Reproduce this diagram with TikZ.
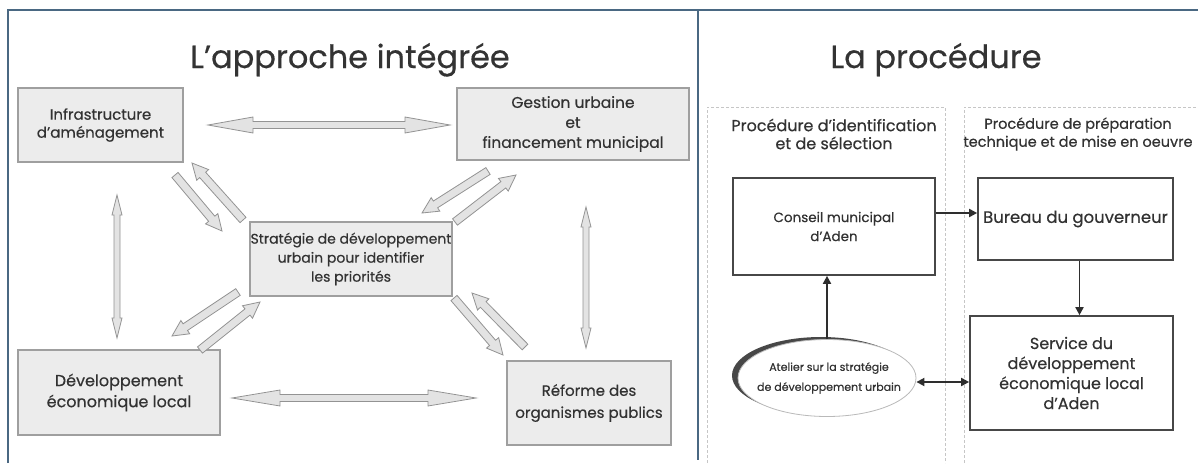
\documentclass[tikz,border=0pt]{standalone}
\usepackage{fontspec}
\setmainfont{Poppins}[FakeBold=0.4]
\usetikzlibrary{calc,shapes.geometric,arrows.meta}
\definecolor{framec}{RGB}{74,104,130}
\definecolor{txtc}{RGB}{50,50,50}
\newcommand\dblarr[5]{%
 \draw[garrow] (#1) -- ($(#1)!#3pt!(#2)!#4pt!90:(#2)$) -- ($(#1)!#3pt!(#2)!#5pt!90:(#2)$)
 -- ($(#2)!#3pt!(#1)!#5pt!-90:(#1)$) -- ($(#2)!#3pt!(#1)!#4pt!-90:(#1)$) -- (#2)
 -- ($(#2)!#3pt!(#1)!#4pt!90:(#1)$) -- ($(#2)!#3pt!(#1)!#5pt!90:(#1)$)
 -- ($(#1)!#3pt!(#2)!#5pt!-90:(#2)$) -- ($(#1)!#3pt!(#2)!#4pt!-90:(#2)$) -- cycle;}
\newcommand\sglarr[5]{%
 \draw[garrow] ($(#1)!#5pt!90:(#2)$) -- ($(#2)!#3pt!(#1)!#5pt!-90:(#1)$)
 -- ($(#2)!#3pt!(#1)!#4pt!-90:(#1)$) -- (#2) -- ($(#2)!#3pt!(#1)!#4pt!90:(#1)$)
 -- ($(#2)!#3pt!(#1)!#5pt!90:(#1)$) -- ($(#1)!#5pt!-90:(#2)$) -- cycle;}
\newcommand\fs[2]{\fontsize{#1}{#2}\selectfont}
\tikzset{
 frame/.style={draw=framec, line width=1.8pt},
 title/.style={anchor=base, text=black!80, font=\fs{32}{38}, inner sep=0pt},
 lbox/.style={draw=gray!75, fill=gray!15, line width=1.3pt, align=center, text=txtc, inner sep=0pt},
 rbox/.style={draw=black!72, fill=white, line width=1.7pt, align=center, text=txtc, inner sep=0pt},
 hdr/.style={align=center, text=txtc, inner sep=0pt},
 garrow/.style={draw=gray!85, fill=gray!22, line width=0.8pt, line join=miter},
 barrow/.style={draw=black!82, line width=1.8pt, -{Triangle[length=8pt,width=8pt]}},
 colline/.style={draw=gray!45, line width=0.8pt, dash pattern=on 3pt off 2pt},
}
\begin{document}
\begin{tikzpicture}[x=1pt,y=-1pt]
\useasboundingbox (0,0) rectangle (1198,463);
\fill[white] (0,0) rectangle (1198,463);
% frame
\draw[frame] (8,463) -- (8,10) -- (1198,10);
\draw[frame] (698,10) -- (698,460);
% titles
\node[title] (t1) at (350,68) {L’approche intégrée};
\node[title] (t2) at (936,68) {La procédure};
% left boxes
\node[lbox, minimum width=165, minimum height=74, font=\fs{15}{18}] (infra) at (100.5,125) {Infrastructure\\d’aménagement};
\node[lbox, minimum width=232, minimum height=72, font=\fs{15.5}{20}] (gestion) at (573,124) {Gestion urbaine\\et\\financement municipal};
\node[lbox, minimum width=202, minimum height=74, font=\fs{14}{19}] (strat) at (351,259) {Stratégie de développement\\urbain pour identifier\\les priorités};
\node[lbox, minimum width=202, minimum height=85, font=\fs{16}{21}] (dev) at (119,392.5) {Développement\\économique local};
\node[lbox, minimum width=164, minimum height=84, font=\fs{15}{22}] (ref) at (589,403) {Réforme des\\organismes publics};
% gray arrow ends
\coordinate (a1) at (208,125); \coordinate (a2) at (450,125);
\coordinate (b1) at (232,398); \coordinate (b2) at (476,398);
\coordinate (c1) at (117,195); \coordinate (c2) at (117,338);
\coordinate (d1) at (586,207); \coordinate (d2) at (586,348);
\dblarr{a1}{a2}{45}{8}{3.5}
\dblarr{b1}{b2}{48}{8}{3.5}
\dblarr{c1}{c2}{20}{5}{3}
\dblarr{d1}{d2}{20}{5}{3}
\coordinate (e1) at (175,175); \coordinate (e2) at (222,231);
\coordinate (f1) at (243,220); \coordinate (f2) at (192,163);
\coordinate (g1) at (488,171); \coordinate (g2) at (422,213);
\coordinate (h1) at (455,222); \coordinate (h2) at (516,175);
\coordinate (i1) at (238,292); \coordinate (i2) at (172,336);
\coordinate (j1) at (200,350); \coordinate (j2) at (260,302);
\coordinate (k1) at (454,298); \coordinate (k2) at (503,355);
\coordinate (l1) at (525,347); \coordinate (l2) at (472,293);
\foreach \p/\q in {e1/e2,f1/f2,g1/g2,h1/h2,i1/i2,j1/j2,k1/k2,l1/l2}{\sglarr{\p}{\q}{16}{8}{4}}
% right panel columns
\draw[colline] (707,463) -- (707,107) -- (945,107) -- (945,463);
\draw[colline] (964,463) -- (964,107) -- (1198,107);
\node[hdr, font=\fs{16}{18}] (hd1) at (834,134) {Procédure d’identification\\et de sélection};
\node[hdr, font=\fs{14.5}{18}] (hd2) at (1078,134) {Procédure de préparation\\technique et de mise en oeuvre};
\node[rbox, minimum width=202, minimum height=97, font=\fs{13.5}{19}] (conseil) at (834,226.5) {Conseil municipal\\d’Aden};
\node[rbox, minimum width=195, minimum height=82, font=\fs{16.5}{20}] (bureau) at (1075.5,219) {Bureau du gouverneur};
\node[rbox, minimum width=203, minimum height=114, font=\fs{16}{20}] (service) at (1071.5,373) {Service du\\développement\\économique local\\d’Aden};
\fill[black!72] (821,375.5) ellipse [x radius=89, y radius=38.5];
\node[ellipse, draw=gray!55, fill=white, line width=0.8pt, minimum width=178, minimum height=77, inner sep=0pt] (atelier) at (827,378) {};
\node[align=center, text=txtc, font=\fs{11}{20}, inner sep=0pt] (atxt) at (829,378) {Atelier sur la stratégie\\de développement urbain};
% black arrows
\draw[barrow] ([yshift=6pt]bureau.west -| conseil.east) -- ([yshift=6pt]bureau.west);
\draw[barrow] ([xshift=4pt]bureau.south) -- ([xshift=4pt]bureau.south |- service.north);
\draw[barrow] (atelier.north) -- (atelier.north |- conseil.south);
\draw[barrow, {Triangle[length=8pt,width=8pt]}-{Triangle[length=8pt,width=8pt]}] ([yshift=-4pt]atelier.east) -- ([yshift=-4pt]atelier.east -| service.west);
\end{tikzpicture}
\end{document}
